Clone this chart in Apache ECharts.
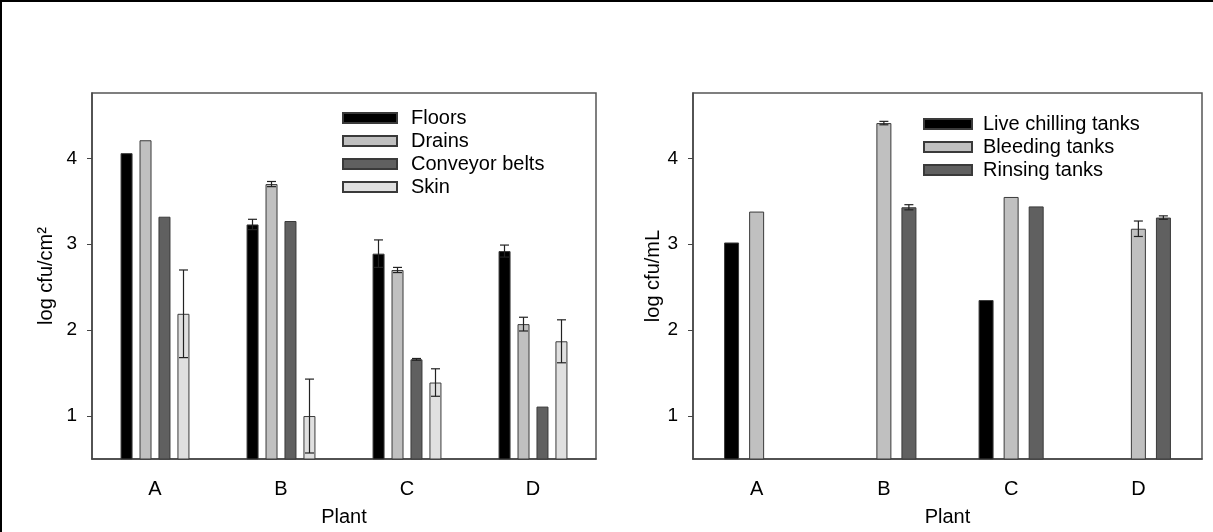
<!DOCTYPE html>
<html>
<head>
<meta charset="utf-8">
<script src="https://cdn.jsdelivr.net/npm/echarts@6/dist/echarts.min.js"></script>
<style>
  html, body { margin: 0; padding: 0; background: #fff; }
  #chart { width: 1213px; height: 532px; }
</style>
</head>
<body>
<div id="chart"></div>
<script>
// categories and tick labels
var plants = ['A', 'B', 'C', 'D'];
var yTicks = [1, 2, 3, 4];

// left panel: surfaces (log cfu/cm2)
var floors = [4.06, 3.23, 2.89, 2.92];
var floorsErr = [null, 0.06, 0.16, 0.07];
var drains = [4.21, 3.70, 2.70, 2.07];
var drainsErr = [null, 0.03, 0.03, 0.08];
var conveyor = [3.32, 3.27, 1.66, 1.11];
var conveyorErr = [null, null, 0.01, null];
var skin = [2.19, 1.00, 1.39, 1.87];
var skinErr = [0.51, 0.43, 0.16, 0.25];

// right panel: tanks (log cfu/mL)
var liveChilling = [3.02, null, 2.35, null];
var bleeding = [3.38, 4.41, 3.55, 3.18];
var bleedingErr = [null, 0.02, null, 0.09];
var rinsing = [null, 3.43, 3.44, 3.31];
var rinsingErr = [null, 0.03, null, 0.02];

var FONT = "'Liberation Sans', Arial, sans-serif";

function barSeries(name, data, color, axis, width, gap) {
    return {
        name: name,
        type: 'bar',
        xAxisIndex: axis,
        yAxisIndex: axis,
        data: data,
        barWidth: width,
        barGap: gap,
        itemStyle: { color: color, borderColor: '#3a3a3a', borderWidth: 1 }
    };
}

function errSeries(values, errs, axis, offset) {
    var d = [];
    values.forEach(function (v, i) {
        if (v != null && errs[i] != null) d.push([i, v, errs[i]]);
    });
    return {
        type: 'custom',
        xAxisIndex: axis,
        yAxisIndex: axis,
        z: 5,
        silent: true,
        data: d,
        renderItem: function (params, api) {
            var top = api.coord([api.value(0), api.value(1) + api.value(2)]);
            var bot = api.coord([api.value(0), api.value(1) - api.value(2)]);
            var x = top[0] + offset;
            var half = 4.5;
            var st = { stroke: '#222', lineWidth: 1.2 };
            return {
                type: 'group',
                children: [
                    { type: 'line', shape: { x1: x, y1: top[1], x2: x, y2: bot[1] }, style: st },
                    { type: 'line', shape: { x1: x - half, y1: top[1], x2: x + half, y2: top[1] }, style: st },
                    { type: 'line', shape: { x1: x - half, y1: bot[1], x2: x + half, y2: bot[1] }, style: st }
                ]
            };
        }
    };
}

function xAxisFor(idx) {
    return {
        type: 'category',
        gridIndex: idx,
        data: plants,
        name: 'Plant',
        nameLocation: 'middle',
        nameGap: 48,
        nameTextStyle: { fontFamily: FONT, fontSize: 20, color: '#000' },
        axisLine: { lineStyle: { color: '#444', width: 1.5 } },
        axisTick: { alignWithLabel: true, length: 5, lineStyle: { color: '#444' } },
        axisLabel: { fontFamily: FONT, fontSize: 20, color: '#000', margin: 20 }
    };
}

function yAxisFor(idx, name, gap) {
    return {
        type: 'value',
        gridIndex: idx,
        min: 0.5,
        max: 4.76,
        name: name,
        nameLocation: 'middle',
        nameGap: gap,
        nameTextStyle: { fontFamily: FONT, fontSize: 20, color: '#000' },
        splitLine: { show: false },
        axisLine: { show: true, lineStyle: { color: '#444', width: 1.5 } },
        axisTick: { show: true, length: 5, customValues: yTicks, lineStyle: { color: '#444' } },
        axisLabel: { fontFamily: FONT, fontSize: 19, color: '#000', margin: 15, customValues: yTicks }
    };
}

function init() {
    var myChart = echarts.init(document.getElementById('chart'));

    var series = [
        barSeries('Floors', floors, '#000000', 0, 12, '58%'),
        barSeries('Drains', drains, '#c0c0c0', 0, 12, '58%'),
        barSeries('Conveyor belts', conveyor, '#606060', 0, 12, '58%'),
        barSeries('Skin', skin, '#e0e0e0', 0, 12, '58%'),
        barSeries('Live chilling tanks', liveChilling, '#000000', 1, 15, '67%'),
        barSeries('Bleeding tanks', bleeding, '#c0c0c0', 1, 15, '67%'),
        barSeries('Rinsing tanks', rinsing, '#606060', 1, 15, '67%'),
        errSeries(floors, floorsErr, 0, -28.5),
        errSeries(drains, drainsErr, 0, -9.5),
        errSeries(conveyor, conveyorErr, 0, 9.5),
        errSeries(skin, skinErr, 0, 28.5),
        errSeries(bleeding, bleedingErr, 1, 0),
        errSeries(rinsing, rinsingErr, 1, 25)
    ];

    myChart.setOption({
        animation: false,
        backgroundColor: '#fff',
        grid: [
            { left: 92, top: 93, width: 504, height: 367, show: true, borderColor: '#555', borderWidth: 1.5, backgroundColor: 'transparent' },
            { left: 693, top: 93, width: 509, height: 370, show: true, borderColor: '#555', borderWidth: 1.5, backgroundColor: 'transparent' }
        ],
        legend: [
            {
                data: ['Floors', 'Drains', 'Conveyor belts', 'Skin'],
                orient: 'vertical',
                left: 342,
                top: 108,
                padding: 0,
                itemWidth: 54,
                itemHeight: 10,
                itemGap: 3,
                icon: 'rect',
                selectedMode: false,
                textStyle: { fontFamily: FONT, fontSize: 20, color: '#000', lineHeight: 20, padding: [0, 0, 0, 9] }
            },
            {
                data: ['Live chilling tanks', 'Bleeding tanks', 'Rinsing tanks'],
                orient: 'vertical',
                left: 923,
                top: 114,
                padding: 0,
                itemWidth: 48,
                itemHeight: 10,
                itemGap: 3,
                icon: 'rect',
                selectedMode: false,
                textStyle: { fontFamily: FONT, fontSize: 20, color: '#000', lineHeight: 20, padding: [0, 0, 0, 6] }
            }
        ],
        xAxis: [xAxisFor(0), xAxisFor(1)],
        yAxis: [yAxisFor(0, 'log cfu/cm\u00b2', 36), yAxisFor(1, 'log cfu/mL', 28)],
        graphic: [
            { type: 'line', shape: { x1: 1, y1: 0, x2: 1, y2: 532 }, style: { stroke: '#000', lineWidth: 2 } },
            { type: 'line', shape: { x1: 0, y1: 1, x2: 1213, y2: 1 }, style: { stroke: '#000', lineWidth: 2 } }
        ],
        series: series
    });
}

document.addEventListener("DOMContentLoaded", function (event) {
    init();
});
</script>
</body>
</html>
